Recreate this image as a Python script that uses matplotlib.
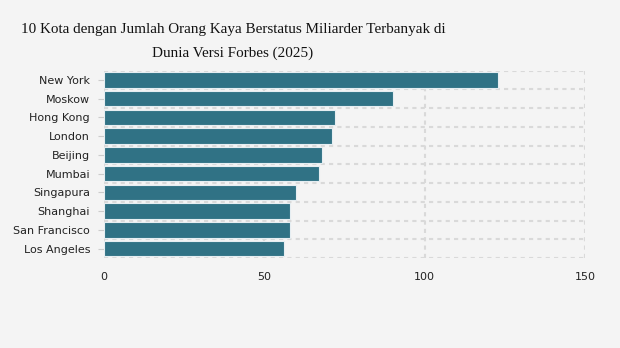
import numpy as np
import matplotlib.pyplot as plt

# data
cities = ['New York', 'Moskow', 'Hong Kong', 'London', 'Beijing', 'Mumbai',
          'Singapura', 'Shanghai', 'San Francisco', 'Los Angeles']
billionaires = [123, 90, 72, 71, 68, 67, 60, 58, 58, 56]
xticks = [0, 50, 100, 150]

bg = '#f4f4f4'
bar_color = '#307285'
grid_color = '#d9d9d9'

fig = plt.figure(figsize=(6.2, 3.48), dpi=100, facecolor=bg)
ax = fig.add_axes([104 / 620, 1 - 258 / 348, (585 - 104) / 620, (258 - 70.5) / 348])
ax.set_facecolor(bg)

y = np.arange(len(cities))
ax.barh(y, billionaires, height=0.82, color=bar_color, edgecolor='#e6eef2', linewidth=0.8, zorder=3)

ax.set_xlim(0, 150)
ax.set_ylim(len(cities) - 0.5, -0.5)
ax.set_yticks(y)
ax.set_yticklabels(cities)
ax.set_xticks(xticks)

# dotted grid: vertical at ticks, horizontal between bars
for v in xticks:
    ax.axvline(v, color=grid_color, linestyle=(0, (2, 2)), linewidth=1.5, zorder=1)
for b in np.arange(-0.5, len(cities), 1.0):
    ax.axhline(b, color=grid_color, linestyle=(0, (2, 2)), linewidth=1.5, zorder=1)

for s in ax.spines.values():
    s.set_visible(False)

ax.tick_params(axis='y', length=4, color='#cccccc', labelsize=8, labelcolor='#222222', pad=6)
ax.tick_params(axis='x', length=0, labelsize=8, labelcolor='#222222', pad=10)

title_font = dict(ha='center', va='center', family='Liberation Serif', fontsize=10.9, color='#111111')
fig.text(233 / 620, 1 - 30 / 348,
         '10 Kota dengan Jumlah Orang Kaya Berstatus Miliarder Terbanyak di', **title_font)
fig.text(233 / 620, 1 - 53 / 348, 'Dunia Versi Forbes (2025)', **title_font)

fig.savefig('out.png', dpi=100, facecolor=bg)
